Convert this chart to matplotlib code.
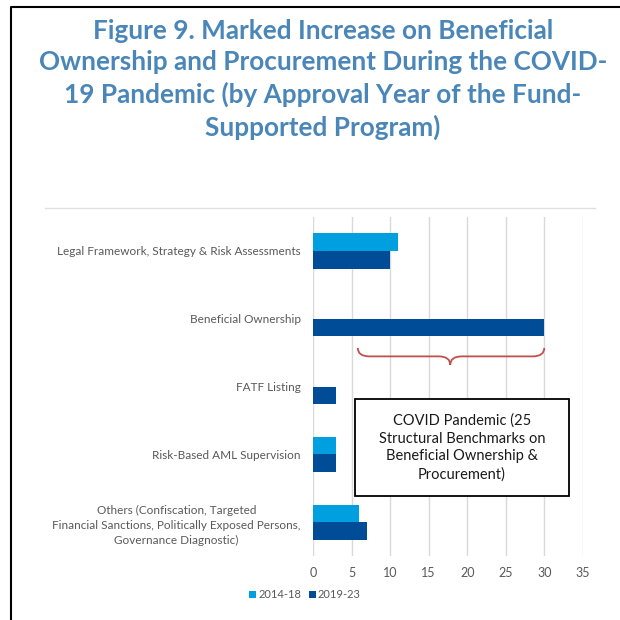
import matplotlib
matplotlib.use("Agg")
import matplotlib.pyplot as plt
import numpy as np
from matplotlib.path import Path
from matplotlib.patches import PathPatch, Rectangle
from matplotlib.lines import Line2D

categories = [
    "Legal Framework, Strategy & Risk Assessments",
    "Beneficial Ownership",
    "FATF Listing",
    "Risk-Based AML Supervision",
    "Others (Confiscation, Targeted\nFinancial Sanctions, Politically Exposed Persons,\nGovernance Diagnostic)",
]
series_names = ["2014-18", "2019-23"]
values_2014_18 = [11, 0, 0, 3, 6]
values_2019_23 = [10, 30, 3, 3, 7]
xticks = [0, 5, 10, 15, 20, 25, 30, 35]
title = ("Figure 9. Marked Increase on Beneficial\nOwnership and Procurement During the COVID-\n"
         "19 Pandemic (by Approval Year of the Fund-\nSupported Program)")
box_text = "COVID Pandemic (25\nStructural Benchmarks on\nBeneficial Ownership &\nProcurement)"

plt.rcParams['font.family'] = ['Lato', 'DejaVu Sans']

light = "#009FDF"
dark = "#004C97"
gray_text = "#595959"

fig = plt.figure(figsize=(6.2, 6.2), dpi=100)
ax = fig.add_axes([0.505, 0.103, 0.435, 0.547])

y = np.arange(len(categories))
h = 0.26
ax.barh(y - h / 2, values_2014_18, height=h, color=light, label=series_names[0])
ax.barh(y + h / 2, values_2019_23, height=h, color=dark, label=series_names[1])
ax.set_ylim(4.5, -0.5)
ax.set_xlim(0, 35)
ax.set_xticks(xticks)
ax.set_xticklabels([str(t) for t in xticks])
ax.set_yticks(y)
ax.set_yticklabels(categories, fontsize=8.5, color=gray_text, linespacing=1.45)
for lbl in ax.get_yticklabels():
    lbl.set_ha('right')
    lbl.set_multialignment('center')
ax.tick_params(axis='y', length=0, pad=9)
ax.tick_params(axis='x', length=0, labelsize=9, labelcolor=gray_text, pad=8)
for s in ax.spines.values():
    s.set_visible(False)
ax.set_axisbelow(True)
ax.grid(axis='x', color="#D9D9D9", linewidth=1)

# curly brace
x0, x1, xm = 5.8, 30.0, 17.8
yt, yb = 1.43, 1.68
ymid = (yt + yb) / 2
verts = [
    (x0, yt), (x0, ymid), (x0 + 1.5, ymid),
    (xm - 1.5, ymid),
    (xm, ymid), (xm, yb),
    (xm, ymid), (xm + 1.5, ymid),
    (x1 - 1.5, ymid),
    (x1, ymid), (x1, yt),
]
codes = [Path.MOVETO, Path.CURVE3, Path.CURVE3,
         Path.LINETO,
         Path.CURVE3, Path.CURVE3,
         Path.CURVE3, Path.CURVE3,
         Path.LINETO,
         Path.CURVE3, Path.CURVE3]
ax.add_patch(PathPatch(Path(verts, codes), facecolor='none', edgecolor="#C0504D", linewidth=1.3))

# text box
ax.add_patch(Rectangle((5.45, 2.18), 27.75, 1.44, facecolor='white', edgecolor='black', linewidth=1.3, zorder=3))
ax.text(19.3, 2.9, box_text, ha='center', va='center', fontsize=10.5, color="#1a1a1a",
        linespacing=1.35, zorder=4)

# title
fig.text(323 / 620, 0.970, title, ha='center', va='top', fontsize=18.8, fontweight='bold',
         color="#4A86B8", linespacing=1.37)

# separator line and border
fig.add_artist(Line2D([45 / 620, 595 / 620], [1 - 208 / 620] * 2, color="#E0E0E0", linewidth=1))
fig.add_artist(Line2D([11 / 620, 11 / 620, 1.0], [0.0, 1 - 7 / 620, 1 - 7 / 620], color="black", linewidth=1.5))

handles, labels = ax.get_legend_handles_labels()
fig.legend(handles, labels, loc='center', bbox_to_anchor=(305 / 620, 1 - 595 / 620), ncol=2,
           frameon=False, fontsize=8, labelcolor=gray_text, handlelength=0.6, handleheight=0.6,
           handletextpad=0.2, columnspacing=0.7)

fig.savefig("out.png", dpi=100)
